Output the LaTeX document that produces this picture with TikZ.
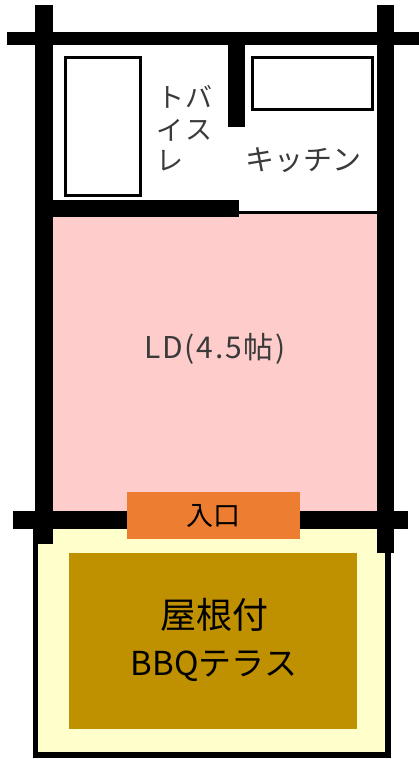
\documentclass[tikz,border=0pt]{standalone}
\usepackage{fontspec}
\newfontfamily\jp{Noto Sans CJK JP}
\newfontfamily\jpwide{Noto Sans CJK JP}[LetterSpace=6]
\definecolor{pinkroom}{HTML}{FFCCCC}
\definecolor{terrace}{HTML}{FFFFCC}
\definecolor{roofed}{HTML}{BF9000}
\definecolor{entry}{HTML}{ED7D31}
\definecolor{lowink}{HTML}{3A3A3A}
\tikzset{
  x=1pt,y=-1pt,
  wall/.style={fill=black,draw=none},
  fixture/.style={draw=black,line width=3pt,fill=white},
  roomlabel/.style={inner sep=0,text=lowink,font=\jp\fontsize{27}{27}\selectfont},
  biglabel/.style={inner sep=0,text=black,align=center,font=\jp\fontsize{36}{47}\selectfont},
}
\begin{document}
\begin{tikzpicture}
\useasboundingbox (0,0) rectangle (419,759);
% terrace
\fill[black] (33,529) rectangle (391,758);
\fill[terrace] (38,529) rectangle (385,752);
\fill[roofed] (69,553) rectangle (357,729);
% LD room
\fill[pinkroom] (53,214) rectangle (377,511);
\fill[black] (239,211) rectangle (377,214);
% fixtures
\draw[fixture] (65.5,57.5) rectangle (140.5,195.5);
\draw[fixture] (252.5,57.5) rectangle (372.5,109.5);
% walls
\fill[wall] (7,32) rectangle (419,45);
\fill[wall] (13,511) rectangle (408,529);
\fill[wall] (35,5) rectangle (53,544);
\fill[wall] (377,5) rectangle (394,553);
\fill[wall] (228,45) rectangle (245,127);
\fill[wall] (53,200) rectangle (239,217);
% entrance
\fill[entry] (127,492) rectangle (300,539);
% labels
\node[roomlabel] (to) at (171,97) {ト};
\node[roomlabel] (ba) at (199,97) {バ};
\node[roomlabel] (i) at (170,130) {イ};
\node[roomlabel] (su) at (199,130) {ス};
\node[roomlabel] (re) at (170,161) {レ};
\node[roomlabel,font=\jp\fontsize{29}{29}\selectfont] (kit) at (303,160) {キッチン};
\node[roomlabel,font=\jpwide\fontsize{30}{30}\selectfont] (ld) at (215,349) {LD(4.5帖)};
\node[inner sep=0,font=\jp\fontsize{27}{27}\selectfont] (in) at (213,516) {入口};
\node[biglabel] (bbq) at (214,640) {屋根付\\{\fontsize{33}{47}\selectfont BBQテラス}};
\end{tikzpicture}
\end{document}
